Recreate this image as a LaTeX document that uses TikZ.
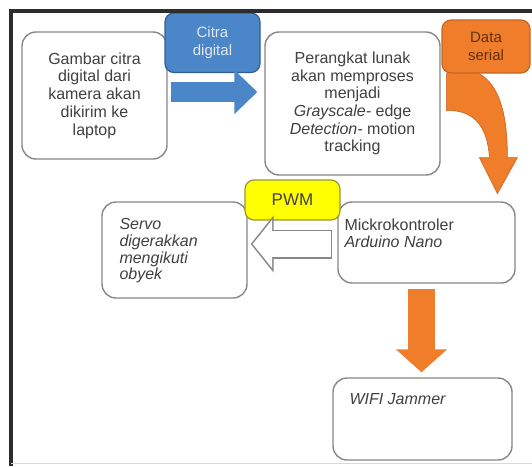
\documentclass[tikz,border=0pt]{standalone}
\usepackage{fontspec}
\setmainfont{Liberation Sans}
\usepackage{tikz}
\usetikzlibrary{arrows.meta,calc,positioning}
\definecolor{boxgrey}{RGB}{135,135,135}
\definecolor{txtgrey}{RGB}{64,64,64}
\definecolor{framegrey}{RGB}{45,45,45}
\definecolor{bluefill}{RGB}{74,134,200}
\definecolor{bluedark}{RGB}{50,95,145}
\definecolor{bluetext}{RGB}{225,232,242}
\definecolor{orangefill}{RGB}{240,125,42}
\definecolor{orangedark}{RGB}{200,100,35}
\definecolor{orangetext}{RGB}{95,50,15}
\definecolor{yellowfill}{RGB}{255,255,0}
\definecolor{yellowdark}{RGB}{150,150,60}

\begin{document}
\begin{tikzpicture}[x=1pt,y=-1pt,
			font=\fontsize{16}{17.7}\selectfont,
			grey node/.style={
				rectangle, draw=boxgrey, line width=1.4pt,
				fill=white, text=txtgrey, align=center,
				rounded corners=14pt},
			tab node/.style={
				rectangle, line width=1.2pt, align=center,
				rounded corners=9pt,
				font=\fontsize{15}{18}\selectfont},
			note/.style={
				anchor=north west, align=left, inner sep=0pt,
				text=txtgrey}
			]
			\fill[white] (0,0) rectangle (532,466);
			\useasboundingbox (0,0) rectangle (532,466);
			
			\node[grey node,minimum width=145pt,minimum height=127pt] (1) at (94.5,95.5)
			{Gambar citra\\digital dari\\kamera akan\\dikirim ke\\laptop};
			\node[grey node,minimum width=175pt,minimum height=143pt] (2) at (352.5,103.5)
			{Perangkat lunak\\akan memproses\\menjadi\\\textit{Grayscale-} edge\\\textit{Detection-} motion\\tracking};
			\node[grey node,minimum width=145pt,minimum height=96pt,
			label={[note,xshift=18pt,yshift=-17pt,font=\fontsize{16}{16.7}\selectfont\itshape]north west:{Servo\\digerakkan\\mengikuti\\obyek}}] (3) at (174.5,250) {};
			\node[grey node,minimum width=177pt,minimum height=81pt,
			label={[note,xshift=7pt,yshift=-17pt]north west:{Mickrokontroler\\\textit{Arduino Nano}}}] (4) at (426.5,242.5) {};
			\node[grey node,minimum width=179pt,minimum height=82pt,
			label={[note,xshift=17pt,yshift=-16pt,font=\fontsize{16}{17.7}\selectfont\itshape]north west:{WIFI Jammer}}] (5) at (422.5,419) {};
			
			\node[tab node,draw=bluedark,fill=bluefill,text=bluetext,
			minimum width=95pt,minimum height=59.5pt] (6) at (212.5,42.75)
			{Citra\\digital};
			\node[tab node,draw=orangedark,fill=orangefill,text=orangetext,
			minimum width=88pt,minimum height=53pt] (7) at (486,46.5)
			{Data\\serial};
			\node[tab node,draw=yellowdark,fill=yellowfill,text=txtgrey,
			minimum width=95pt,minimum height=40pt,
			font=\fontsize{17}{18}\selectfont] (8) at (292.5,200)
			{PWM};
			
			\path
			([xshift=3pt,yshift=3.5pt]1.east) edge[line width=20pt,bluefill,
			-{Triangle[length=23pt,width=43pt]}] ([xshift=-7pt,yshift=11.5pt]2.west)
			([xshift=-5pt,yshift=-1.5pt]4.west) edge[line width=29pt,boxgrey,
			-{Triangle[length=23pt,width=56pt]}] ([xshift=3pt,yshift=6pt]3.east)
			([xshift=-5pt,yshift=-1.5pt]4.west) edge[line width=26pt,white,
			shorten <=1.5pt,shorten >=2pt,
			-{Triangle[length=19.5pt,width=47.5pt]}] ([xshift=3pt,yshift=6pt]3.east)
			([xshift=-5pt,yshift=-5pt]4.south) edge[line width=27pt,orangefill,
			-{Triangle[length=23pt,width=50pt]}] ([xshift=-1pt,yshift=5pt]5.north);
			
			% curved arrow below Data serial
			\begin{scope}[shift={(7.south west)}]
				\filldraw[fill=orangefill,draw=orangedark,line width=.6pt]
				(5,0) -- (5,37) .. controls (30,36) and (46,50) .. (48,84)
				-- (38,84) -- (56,120) -- (76,84) -- (66,84)
				.. controls (66,40) and (58,12) .. (38,0) -- cycle;
			\end{scope}
			
			\draw[line width=3.5pt,framegrey] (11,466) -- (11,11) -- (532,11);
			\draw[line width=1pt,black!15] (11,463) -- (532,463);
		\end{tikzpicture}
\end{document}
